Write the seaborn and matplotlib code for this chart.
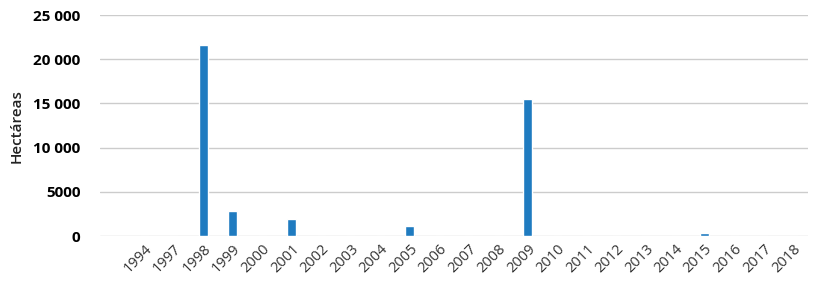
import matplotlib
matplotlib.use("Agg")
import matplotlib.pyplot as plt
import seaborn as sns
import pandas as pd
from matplotlib.ticker import FuncFormatter

years = ["1994", "1997"] + [str(y) for y in range(1998, 2019)]
hectares = [0, 0, 21600, 2800, 0, 1900, 0, 0, 0, 1100, 0, 0, 0, 15500,
            0, 0, 0, 0, 0, 400, 0, 0, 0]

df = pd.DataFrame({"year": years, "ha": hectares})

sns.set_theme(style="white")
plt.rcParams["font.family"] = ["Open Sans", "DejaVu Sans"]

fig = plt.figure(figsize=(8.27, 2.9), dpi=100)
ax = fig.add_axes([0.121, 0.186, 0.856, 0.762])

sns.barplot(data=df, x="year", y="ha", order=years, color="#1f7bc0",
            width=0.3, saturation=1, ax=ax)

ax.set_xlim(-1.5, len(years) - 0.5)
ax.set_ylim(0, 25000)
ax.set_yticks([0, 5000, 10000, 15000, 20000, 25000])


def fmt(v, pos):
    v = int(v)
    if v < 10000:
        return str(v)
    return f"{v:,}".replace(",", " ")


ax.yaxis.set_major_formatter(FuncFormatter(fmt))
ax.yaxis.grid(True, color="#cccccc", lw=1)
ax.set_axisbelow(True)
for s in ax.spines.values():
    s.set_visible(False)

ax.tick_params(axis="y", length=0, labelsize=11, pad=14, labelcolor="black")
for lab in ax.get_yticklabels():
    lab.set_fontweight("bold")
ax.tick_params(axis="x", length=0, labelsize=10.5, labelcolor="#333333", pad=4)
plt.setp(ax.get_xticklabels(), rotation=45, ha="right", rotation_mode="anchor")

ax.set_xlabel("")
ax.set_ylabel("Hectáreas", fontsize=11, fontweight="semibold", color="#222222")
ax.yaxis.set_label_coords(-0.108, 0.5)

fig.savefig("out.png", dpi=100)
plt.close(fig)
